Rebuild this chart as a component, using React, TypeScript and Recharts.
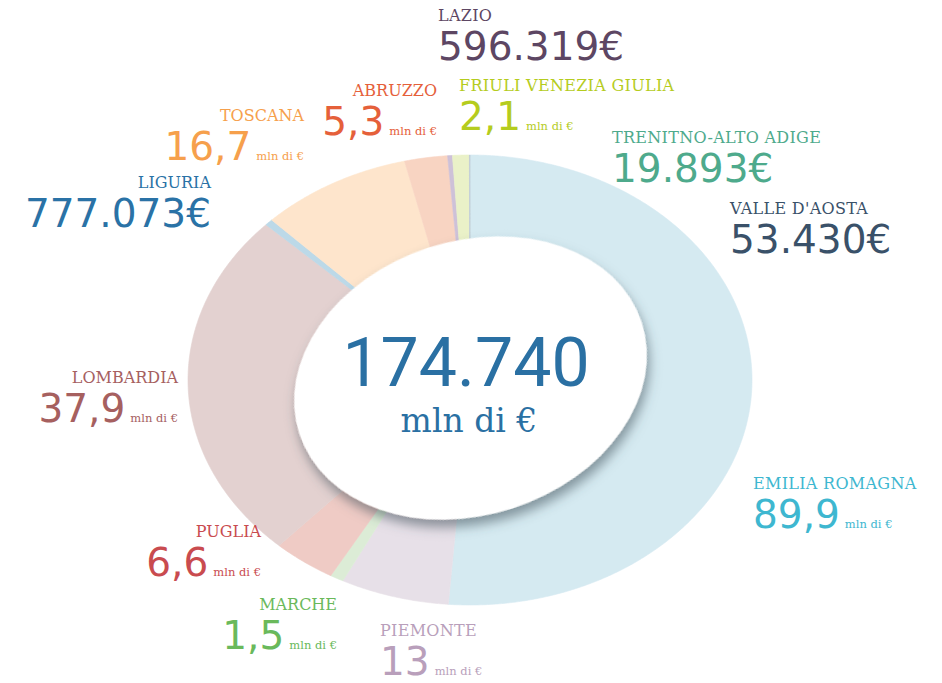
import React from "react";
import { PieChart, Pie, Cell } from "recharts";

// values in millions of euro, clockwise from the top
const regions = [
  "EMILIA ROMAGNA",
  "PIEMONTE",
  "MARCHE",
  "PUGLIA",
  "LOMBARDIA",
  "LIGURIA",
  "TOSCANA",
  "ABRUZZO",
  "LAZIO",
  "FRIULI VENEZIA GIULIA",
  "TRENITNO-ALTO ADIGE",
  "VALLE D'AOSTA",
];
const amounts = [89.9, 13, 1.5, 6.6, 37.9, 0.777073, 16.7, 5.3, 0.596319, 2.1, 0.019893, 0.05343];
const amountLabels = ["89,9", "13", "1,5", "6,6", "37,9", "777.073€", "16,7", "5,3", "596.319€", "2,1", "19.893€", "53.430€"];
const totalLabel = "174.740";
const unitLabel = "mln di €";

const sliceColors = [
  "#d5eaf1", "#e7e0e8", "#dcecd6", "#efcbc5", "#e3d1d0", "#bcd9e8",
  "#fee5cc", "#f8d4c2", "#cec1d8", "#eaf1c8", "#cde8df", "#c3c9d6",
];
const textColors = [
  "#3eb7d0", "#b99fbb", "#6ab95b", "#c94b4f", "#a6605f", "#2a72a6",
  "#f6a04c", "#e5603a", "#5d4663", "#b5cc1e", "#4eaa8c", "#3a5169",
];

// label placement (x, value baseline, anchor); name sits above the value
const labelPos = [
  { x: 753, vy: 528, anchor: "start" },
  { x: 380, vy: 675, anchor: "start" },
  { x: 337, vy: 649, anchor: "end" },
  { x: 261, vy: 576, anchor: "end" },
  { x: 178, vy: 422, anchor: "end" },
  { x: 211, vy: 227, anchor: "end" },
  { x: 304, vy: 160, anchor: "end" },
  { x: 437, vy: 135, anchor: "end" },
  { x: 438, vy: 60, anchor: "start" },
  { x: 459, vy: 130, anchor: "start" },
  { x: 612, vy: 182, anchor: "start" },
  { x: 730, vy: 253, anchor: "start" },
];

const CX = 470;
const CY = 380;
const RX = 282;
const RY = 225;

const SLAB = "'DejaVu Serif', serif";
const NUM = "'DejaVu Sans', sans-serif";

const data = regions.map((name, i) => ({ name, value: amounts[i] }));

// sector clipped to an ellipse instead of a circle
function EllipseSector(props: any) {
  const { cx, cy, startAngle, endAngle, outerRadius, fill } = props;
  const rx = outerRadius;
  const ry = (outerRadius * RY) / RX;
  const steps = Math.max(2, Math.ceil(Math.abs(endAngle - startAngle) / 0.5));
  let d = `M${cx},${cy}`;
  for (let i = 0; i <= steps; i++) {
    const a = startAngle + ((endAngle - startAngle) * i) / steps;
    const rad = (-a * Math.PI) / 180;
    const dx = Math.cos(rad);
    const dy = Math.sin(rad);
    const r = 1 / Math.sqrt((dx * dx) / (rx * rx) + (dy * dy) / (ry * ry));
    d += `L${cx + r * dx},${cy + r * dy}`;
  }
  d += "Z";
  return <path d={d} fill={fill} stroke={fill} strokeWidth={0.6} />;
}

function Overlay() {
  return (
    <svg
      width={942}
      height={683}
      style={{ position: "absolute", left: 0, top: 0, pointerEvents: "none" }}
    >
      <defs>
        <filter id="holeShadow" x="-30%" y="-30%" width="160%" height="160%">
          <feDropShadow dx="0" dy="8" stdDeviation="6" floodColor="#3d4f5a" floodOpacity="0.55" />
        </filter>
      </defs>
      <ellipse
        cx={470.5}
        cy={378}
        rx={180}
        ry={137}
        transform="rotate(-18 470.5 378)"
        fill="#ffffff"
        filter="url(#holeShadow)"
      />
      <text x={466} y={386} textAnchor="middle" fontFamily="Roboto, sans-serif" fontSize={68} fill="#2a70a3">
        {totalLabel}
      </text>
      <text x={469} y={432} textAnchor="middle" fontFamily={SLAB} fontSize={33} fill="#2a70a3">
        {unitLabel}
      </text>
      {regions.map((name, i) => {
        const p = labelPos[i];
        const color = textColors[i];
        const full = amountLabels[i].endsWith("€");
        return (
          <g key={name}>
            <text
              x={p.x}
              y={p.vy - 39}
              textAnchor={p.anchor}
              fontFamily={SLAB}
              fontSize={16}
              letterSpacing={p.anchor === "end" ? 0 : 0.3}
              fill={color}
            >
              {name}
            </text>
            <text x={p.x} y={p.vy} textAnchor={p.anchor} fill={color}>
              <tspan fontFamily={NUM} fontSize={39}>
                {amountLabels[i]}
              </tspan>
              {!full && (
                <tspan fontFamily={SLAB} fontSize={11.5} dx={5}>
                  {unitLabel}
                </tspan>
              )}
            </text>
          </g>
        );
      })}
    </svg>
  );
}

export default function App() {
  return (
    <div style={{ position: "absolute", left: 0, top: 0, width: 942, height: 683, background: "#fff" }}>
      <PieChart width={942} height={683} margin={{ top: 0, right: 0, bottom: 0, left: 0 }}>
        <Pie
          data={data}
          dataKey="value"
          cx={CX}
          cy={CY}
          innerRadius={0}
          outerRadius={RX}
          startAngle={90}
          endAngle={-270}
          stroke="none"
          isAnimationActive={false}
          shape={EllipseSector}
          activeShape={EllipseSector}
          inactiveShape={EllipseSector}
        >
          {data.map((d, i) => (
            <Cell key={d.name} fill={sliceColors[i]} />
          ))}
        </Pie>
      </PieChart>
      <Overlay />
    </div>
  );
}
